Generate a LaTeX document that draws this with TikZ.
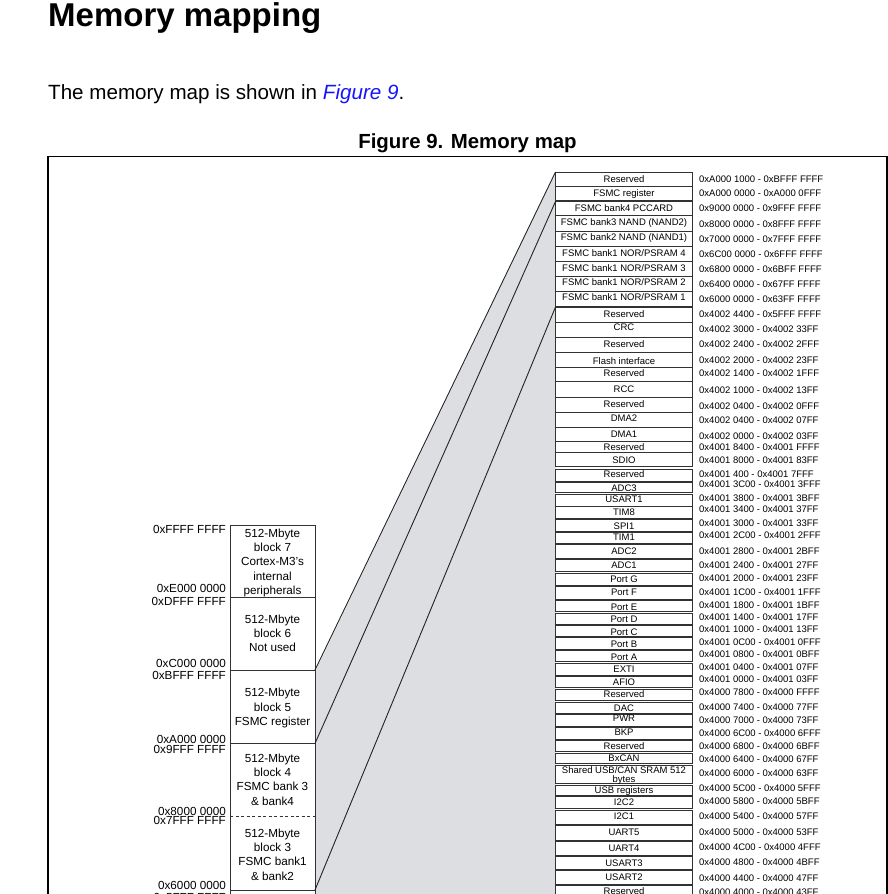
\documentclass[tikz,border=0pt]{standalone}
\usepackage{fontspec}
\setmainfont{Liberation Sans}
\definecolor{boxc}{RGB}{50,50,50}
\definecolor{fanc}{RGB}{35,35,35}
\definecolor{grayfill}{RGB}{221,222,225}
\definecolor{linkblue}{RGB}{20,20,255}
\begin{document}
\begin{tikzpicture}[x=1pt,y=-1pt,
  rowbox/.style={draw=boxc, line width=0.8pt, fill=white, inner sep=0pt, outer sep=0pt, minimum width=137pt},
  rowlab/.style={anchor=base, inner sep=0pt, align=center, font=\fontsize{9.5}{9}\selectfont},
  addr/.style={anchor=base west, inner sep=0pt, font=\fontsize{9.5}{9}\selectfont},
  blk/.style={draw=boxc, line width=0.8pt, fill=white, inner sep=0pt, outer sep=0pt, minimum width=85pt},
  blktxt/.style={anchor=base, inner sep=0pt, align=center, font=\fontsize{11.7}{14.2}\selectfont},
  lab/.style={anchor=base east, inner sep=0pt, font=\fontsize{11.7}{12}\selectfont},
  fan/.style={draw=fanc, line width=0.9pt}]
\useasboundingbox (0,0) rectangle (888,894);
\clip (0,0) rectangle (888,894);

% headings
\node[anchor=base west, inner sep=0pt, font=\fontsize{33}{36}\selectfont\bfseries] (head) at (48,27) {Memory mapping};
\node[anchor=base west, inner sep=0pt, font=\fontsize{20.6}{24}\selectfont] (intro) at (48,99) {The memory map is shown in \textcolor{linkblue}{\itshape Figure 9}.};
\node[anchor=base, inner sep=0pt, font=\fontsize{20.4}{24}\selectfont\bfseries] (ftitle) at (467.5,148.5) {Figure 9. Memory map};

% left column blocks
\node[blk, minimum height=72.5pt] (b7) at (272.5,561.25) {};
\node[blk, minimum height=72.5pt] (b6) at (272.5,633.75) {};
\node[blk, minimum height=73.5pt] (b5) at (272.5,706.75) {};
\node[blk, draw=none, minimum height=73.2pt] (b4) at (272.5,780.1) {};
\node[blk, draw=none, minimum height=73.3pt] (b3) at (272.5,853.35) {};
\node[blk, minimum height=40pt] (b2) at (272.5,910) {};
\draw[boxc, line width=0.8pt] (b4.north west) rectangle (b3.south east);
\draw[boxc, line width=0.8pt, dash pattern=on 3pt off 2.5pt] (b4.south west) -- (b4.south east);

% gray band
\coordinate (g1) at (556,900);
\coordinate (g2) at (316,900);
\path[fill=grayfill] (316,670) -- (556,172) -- (g1) -- (g2) -- cycle;

% right column rows (nodes r1..r52); label y = baseline of last line
\foreach \t/\b/\ly/\lab/\ad/\ay [count=\i] in {
 172/186/179/Reserved/0xA000 1000 - 0xBFFF FFFF/179,
 186/200.5/193.3/FSMC register/0xA000 0000 - 0xA000 0FFF/193.3,
 201.5/215.5/207.7/FSMC bank4 PCCARD/0x9000 0000 - 0x9FFF FFFF/208.3,
 215.5/231/222.3/FSMC bank3 NAND (NAND2)/0x8000 0000 - 0x8FFF FFFF/224.3,
 231/246.5/237.3/FSMC bank2 NAND (NAND1)/0x7000 0000 - 0x7FFF FFFF/239,
 246.5/261.5/253.3/{FSMC bank1 NOR/PSRAM 4}/0x6C00 0000 - 0x6FFF FFFF/254.3,
 261.5/276.5/267.7/{FSMC bank1 NOR/PSRAM 3}/0x6800 0000 - 0x6BFF FFFF/269,
 276.5/291.5/282.3/{FSMC bank1 NOR/PSRAM 2}/0x6400 0000 - 0x67FF FFFF/284,
 291.5/306.5/297.3/{FSMC bank1 NOR/PSRAM 1}/0x6000 0000 - 0x63FF FFFF/299,
 307/322/314/Reserved/0x4002 4400 - 0x5FFF FFFF/314,
 322/337.3/327.3/CRC/0x4002 3000 - 0x4002 33FF/329,
 337.3/352.3/344.3/Reserved/0x4002 2400 - 0x4002 2FFF/344.3,
 352.3/367.3/361/Flash interface/0x4002 2000 - 0x4002 23FF/360,
 367.3/381.7/373/Reserved/0x4002 1400 - 0x4002 1FFF/373,
 381.7/397.3/389/RCC/0x4002 1000 - 0x4002 13FF/390,
 397.3/412.3/403.7/Reserved/0x4002 0400 - 0x4002 0FFF/405.7,
 412.3/427.3/418/DMA2/0x4002 0400 - 0x4002 07FF/420,
 427.3/441/434/DMA1/0x4002 0000 - 0x4002 03FF/435.7,
 441/452.7/446.7/Reserved/0x4001 8400 - 0x4001 FFFF/446.7,
 452.7/466.7/460/SDIO/0x4001 8000 - 0x4001 83FF/460,
 469/481/474.3/Reserved/0x4001 400 - 0x4001 7FFF/474.3,
 482.3/492.3/487.7/ADC3/0x4001 3C00 - 0x4001 3FFF/484.3,
 494.3/506.7/499.3/USART1/0x4001 3800 - 0x4001 3BFF/497.7,
 506.7/518.3/512.3/TIM8/0x4001 3400 - 0x4001 37FF/509.3,
 519.3/531/525.7/SPI1/0x4001 3000 - 0x4001 33FF/522.7,
 532.3/543.3/537.3/TIM1/0x4001 2C00 - 0x4001 2FFF/535.3,
 544.3/558.3/550.7/ADC2/0x4001 2800 - 0x4001 2BFF/550.7,
 559.7/571.7/565/ADC1/0x4001 2400 - 0x4001 27FF/565,
 573.3/585.7/579/Port G/0x4001 2000 - 0x4001 23FF/578.3,
 586.7/599/592.3/Port F/0x4001 1C00 - 0x4001 1FFF/591.7,
 600.7/611.7/606.7/Port E/0x4001 1800 - 0x4001 1BFF/605,
 613.3/624/619.3/Port D/0x4001 1400 - 0x4001 17FF/616.7,
 625/636.7/631.7/Port C/0x4001 1000 - 0x4001 13FF/629.3,
 637.7/649.3/644/Port B/0x4001 0C00 - 0x4001 0FFF/641.7,
 650/661.7/656.7/Port A/0x4001 0800 - 0x4001 0BFF/654,
 663.3/675/669/EXTI/0x4001 0400 - 0x4001 07FF/666.7,
 676/687.3/681.7/AFIO/0x4001 0000 - 0x4001 03FF/679.3,
 689.3/700.7/694.3/Reserved/0x4000 7800 - 0x4000 FFFF/691.7,
 702.7/713.3/707.7/DAC/0x4000 7400 - 0x4000 77FF/707.3,
 714.3/726/718.3/PWR/0x4000 7000 - 0x4000 73FF/720,
 727.3/739.3/732/BKP/0x4000 6C00 - 0x4000 6FFF/732.7,
 740.7/751.7/745.7/Reserved/0x4000 6800 - 0x4000 6BFF/745.7,
 753.3/763.3/758.3/BxCAN/0x4000 6400 - 0x4000 67FF/759,
 765/783.3/779/{Shared USB/CAN SRAM 512\\bytes}/0x4000 6000 - 0x4000 63FF/773.3,
 785/795.7/790/USB registers/0x4000 5C00 - 0x4000 5FFF/788.3,
 796.7/808.3/802.3/I2C2/0x4000 5800 - 0x4000 5BFF/801,
 810/824/815.7/I2C1/0x4000 5400 - 0x4000 57FF/815.7,
 825.7/840/832.3/UART5/0x4000 5000 - 0x4000 53FF/832.3,
 841/855.7/848.3/UART4/0x4000 4C00 - 0x4000 4FFF/847.3,
 856.7/869/863.3/USART3/0x4000 4800 - 0x4000 4BFF/861.7,
 870/884.3/876.7/USART2/0x4000 4400 - 0x4000 47FF/877.7,
 885.7/910/891/Reserved/0x4000 4000 - 0x4000 43FF/891.7}{
  \node[rowbox, minimum height={(\b-\t)*1pt}] (r\i) at (624,{(\t+\b)/2}) {};
  \node[rowlab] (l\i) at (624,\ly+3.4) {\lab};
  \node[addr] (a\i) at (699,\ay+3.4) {\ad};
}

% fan connectors
\draw[fan] (b5.north east) -- (r1.north west);
\draw[fan] (b5.south east) -- (r3.north west);
\draw[fan] (b3.south east) -- (r10.north west);

% outer frame
\draw[black, line width=1.3pt] (48,920) -- (48,156.5) -- (887,156.5) -- (887,920);

% block texts (anchor = baseline of last line)
\node[blktxt] (t7) at (272.5,594.3) {512-Mbyte\\block 7\\Cortex-M3's\\internal\\peripherals};
\node[blktxt] (t6) at (272.5,651.6) {512-Mbyte\\block 6\\Not used};
\node[blktxt] (t5) at (272.5,725.3) {512-Mbyte\\block 5\\FSMC register};
\node[blktxt] (t4) at (272.5,805.1) {512-Mbyte\\block 4\\FSMC bank 3\\\& bank4};
\node[blktxt] (t3) at (272.5,880.1) {512-Mbyte\\block 3\\FSMC bank1\\\& bank2};

% left address labels
\node[lab] (p1) at (226,533.2) {0xFFFF FFFF};
\node[lab] (p2) at (226,592.5) {0xE000 0000};
\node[lab] (p3) at (226,605.2) {0xDFFF FFFF};
\node[lab] (p4) at (226,667.5) {0xC000 0000};
\node[lab] (p5) at (226,679.9) {0xBFFF FFFF};
\node[lab] (p6) at (226,743.5) {0xA000 0000};
\node[lab] (p7) at (226,753.5) {0x9FFF FFFF};
\node[lab] (p8) at (226,815.9) {0x8000 0000};
\node[lab] (p9) at (226,824.2) {0x7FFF FFFF};
\node[lab] (p10) at (226,889.2) {0x6000 0000};
\node[lab] (p11) at (226,901.2) {0x5FFF FFFF};
\end{tikzpicture}
\end{document}
